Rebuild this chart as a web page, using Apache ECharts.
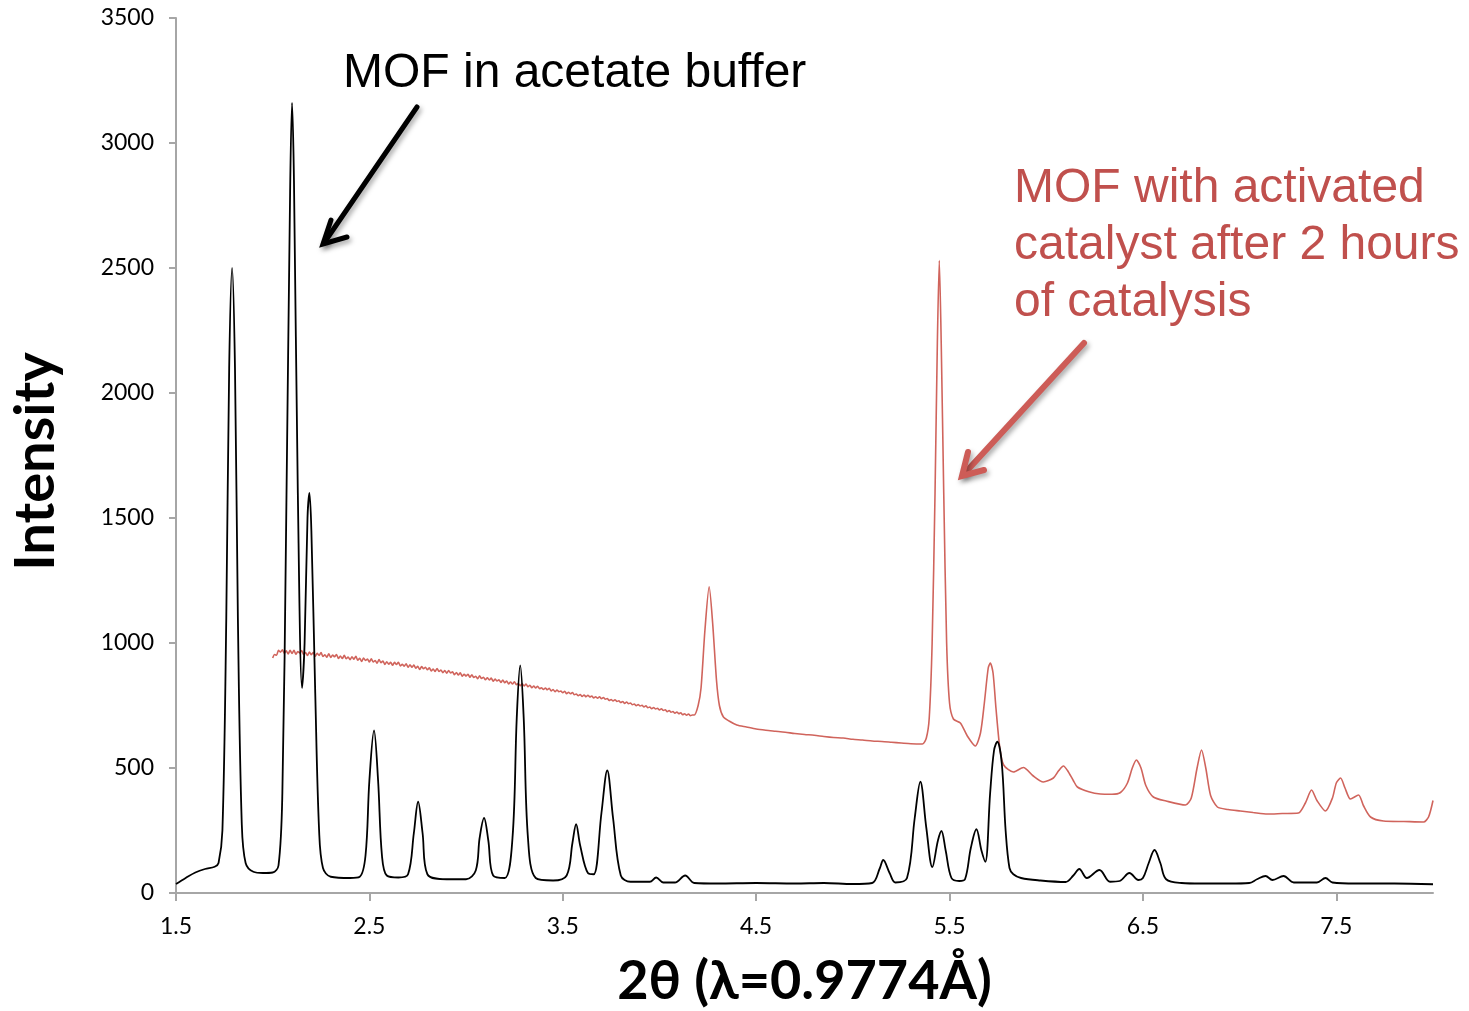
<!DOCTYPE html>
<html>
<head>
<meta charset="utf-8">
<title>XRD</title>
<script src="https://cdn.jsdelivr.net/npm/echarts@6/dist/echarts.min.js"></script>
<style>
html, body { margin: 0; padding: 0; background: #fff; }
#main { width: 1469px; height: 1011px; }
</style>
</head>
<body>
<div id="main"></div>
<script>
// axis ticks
var xTicks = [1.5, 2.5, 3.5, 4.5, 5.5, 6.5, 7.5];
var yTicks = [0, 500, 1000, 1500, 2000, 2500, 3000, 3500];

// MOF in acetate buffer (black)
var blackData = [
	[1.50, 36], [1.55, 60], [1.60, 82], [1.65, 96], [1.70, 105], [1.72, 120], [1.74, 250], [1.76, 1100],
	[1.775, 2100], [1.79, 2500], [1.805, 2100], [1.82, 1100], [1.84, 280], [1.86, 120], [1.90, 85], [1.95, 80],
	[2.00, 82], [2.03, 110], [2.05, 400], [2.07, 1500], [2.09, 2800], [2.10, 3160], [2.11, 2850], [2.13, 1600],
	[2.152, 820], [2.165, 1000], [2.18, 1500], [2.19, 1600], [2.20, 1450], [2.22, 800], [2.24, 250], [2.26, 100],
	[2.30, 65], [2.40, 60], [2.45, 65], [2.48, 150], [2.50, 450], [2.524, 650], [2.545, 450], [2.565, 150],
	[2.59, 70], [2.65, 62], [2.70, 75], [2.73, 240], [2.752, 365], [2.775, 240], [2.80, 75], [2.90, 55],
	[3.00, 55], [3.05, 90], [3.07, 220], [3.093, 300], [3.115, 210], [3.14, 70], [3.20, 60], [3.24, 220],
	[3.262, 700], [3.28, 910], [3.298, 700], [3.32, 220], [3.36, 60], [3.45, 50], [3.52, 70], [3.55, 200],
	[3.569, 275], [3.59, 190], [3.63, 80], [3.66, 75], [3.70, 320], [3.73, 490], [3.76, 300], [3.80, 70],
	[3.85, 45], [3.95, 45], [3.983, 62], [4.02, 42], [4.08, 42], [4.133, 70], [4.18, 40], [4.30, 38],
	[4.50, 40], [4.70, 38], [4.85, 40], [5.00, 36], [5.10, 40], [5.14, 100], [5.157, 132], [5.19, 80],
	[5.22, 42], [5.28, 60], [5.32, 300], [5.349, 445], [5.38, 260], [5.411, 104], [5.44, 210], [5.458, 248],
	[5.48, 170], [5.51, 60], [5.55, 48], [5.58, 55], [5.61, 180], [5.639, 255], [5.665, 170], [5.685, 125],
	[5.71, 400], [5.73, 570], [5.747, 605], [5.77, 520], [5.79, 250], [5.81, 100], [5.83, 75], [5.87, 60],
	[5.97, 50], [6.10, 44], [6.14, 70], [6.171, 96], [6.21, 60], [6.275, 92], [6.33, 45], [6.38, 48],
	[6.43, 80], [6.477, 52], [6.50, 60], [6.53, 120], [6.56, 172], [6.59, 120], [6.62, 55], [6.70, 40],
	[6.80, 38], [6.95, 38], [7.05, 40], [7.09, 55], [7.134, 68], [7.17, 52], [7.227, 68], [7.28, 42],
	[7.40, 42], [7.444, 60], [7.48, 42], [7.60, 38], [7.80, 38], [8.00, 35]
];

// MOF with activated catalyst (red): noisy part read every 0.01 from 2.00
var redNoiseStart = 2.0, redNoiseStep = 0.01;
var redNoise = [
	940, 954, 951, 971, 963, 973, 959, 969, 956, 971,
	958, 971, 955, 966, 960, 970, 954, 962, 950, 964,
	953, 963, 947, 959, 950, 962, 946, 953, 943, 957,
	942, 952, 945, 954, 938, 948, 938, 951, 937, 944,
	933, 945, 935, 947, 931, 939, 926, 940, 930, 936,
	924, 937, 924, 930, 919, 934, 921, 928, 914, 925,
	915, 923, 911, 923, 914, 923, 908, 915, 907, 917,
	903, 913, 903, 912, 899, 907, 894, 906, 897, 903,
	893, 901, 888, 896, 886, 898, 886, 892, 881, 890,
	879, 890, 880, 885, 873, 882, 872, 881, 867, 875,
	868, 875, 863, 873, 862, 867, 857, 869, 858, 863,
	853, 861, 852, 860, 847, 856, 848, 853, 842, 852,
	841, 848, 836, 844, 836, 845, 833, 838, 829, 837,
	828, 836, 825, 831, 821, 828, 820, 827, 817, 821,
	814, 820, 813, 819, 808, 814, 805, 812, 805, 808,
	801, 807, 797, 803, 797, 802, 793, 796, 789, 794,
	786, 792, 785, 791, 784, 788, 780, 785, 779, 785,
	777, 782, 775, 778, 770, 774, 768, 773, 766, 769,
	762, 766, 758, 764, 757, 760, 753, 756, 749, 754,
	748, 751, 744, 749, 741, 744, 737, 742, 736, 739,
	732, 737, 730, 733, 725, 730, 723, 726, 719, 724,
	717, 721, 713, 717, 711, 716, 709, 712
];
var redPeaks = [
	[4.18, 712], [4.20, 750], [4.215, 820], [4.235, 1050], [4.257, 1225], [4.275, 1080], [4.295, 850], [4.31, 750],
	[4.33, 705], [4.36, 688], [4.40, 672], [4.45, 664], [4.50, 656], [4.55, 651], [4.60, 647], [4.65, 643],
	[4.70, 638], [4.75, 634], [4.80, 631], [4.85, 626], [4.90, 622], [4.95, 620], [5.00, 615], [5.05, 612],
	[5.10, 608], [5.15, 606], [5.20, 603], [5.25, 600], [5.30, 597], [5.36, 596], [5.38, 620], [5.395, 700],
	[5.41, 1000], [5.425, 1600], [5.437, 2200], [5.447, 2530], [5.457, 2200], [5.47, 1600], [5.485, 1000], [5.50, 760],
	[5.52, 696], [5.556, 680], [5.592, 628], [5.633, 588], [5.66, 640], [5.68, 760], [5.70, 900], [5.711, 920],
	[5.725, 880], [5.74, 740], [5.76, 580], [5.78, 512], [5.83, 484], [5.882, 502], [5.93, 470], [5.985, 444],
	[6.037, 460], [6.065, 490], [6.089, 508], [6.11, 490], [6.14, 450], [6.161, 424], [6.22, 405], [6.28, 396],
	[6.34, 395], [6.384, 402], [6.42, 440], [6.445, 500], [6.466, 532], [6.49, 500], [6.515, 430], [6.554, 384],
	[6.62, 368], [6.72, 352], [6.75, 380], [6.78, 500], [6.803, 572], [6.825, 500], [6.85, 390], [6.885, 344],
	[6.94, 334], [7.004, 328], [7.07, 322], [7.144, 316], [7.22, 318], [7.304, 320], [7.34, 360], [7.372, 412],
	[7.40, 370], [7.444, 328], [7.48, 380], [7.50, 440], [7.522, 460], [7.545, 420], [7.573, 376], [7.615, 392],
	[7.64, 350], [7.677, 304], [7.744, 288], [7.85, 286], [7.951, 284], [7.977, 304], [8.00, 370]
];

var redData = [];
for (var i = 0; i < redNoise.length; i++) {
	redData.push([+(redNoiseStart + i * redNoiseStep).toFixed(2), redNoise[i]]);
}
redData = redData.concat(redPeaks);

var redText = '#c0504d';
var noteFont = '48px "Liberation Sans", Arial, sans-serif';
var shadow = { shadowBlur: 5, shadowOffsetX: 2, shadowOffsetY: 3, shadowColor: 'rgba(0,0,0,0.35)' };

var myChart = echarts.init(document.getElementById('main'));
var option = {
	backgroundColor: '#ffffff',
	animation: false,
	grid: {
		left: 176,
		right: 36,
		top: 18,
		bottom: 118,
		outerBoundsMode: 'none'
	},
	xAxis: {
		type: 'value',
		min: 1.5,
		max: 8,
		name: '2θ (λ=0.9774Å)',
		nameLocation: 'middle',
		nameGap: 62,
		nameTextStyle: { fontFamily: 'Lato', fontWeight: 'bold', fontSize: 54, color: '#000' },
		axisLine: { lineStyle: { color: '#a6a6a6', width: 2 } },
		axisTick: { customValues: xTicks, length: 8, lineStyle: { color: '#a6a6a6', width: 2 } },
		axisLabel: { customValues: xTicks, margin: 22, fontFamily: 'Lato', fontSize: 23, color: '#000' },
		splitLine: { show: false }
	},
	yAxis: {
		type: 'value',
		min: 0,
		max: 3500,
		interval: 500,
		name: 'Intensity',
		nameLocation: 'middle',
		nameGap: 112,
		nameTextStyle: { fontFamily: 'Lato', fontWeight: 'bold', fontSize: 56, color: '#000', padding: [0, 12, 0, 0] },
		axisLine: { show: true, lineStyle: { color: '#a6a6a6', width: 2 } },
		axisTick: { show: true, customValues: yTicks, length: 7, lineStyle: { color: '#a6a6a6', width: 2 } },
		axisLabel: {
			customValues: yTicks, margin: 22, fontFamily: 'Lato', fontSize: 23, color: '#000',
			formatter: function (v) { return String(v); }
		},
		splitLine: { show: false }
	},
	series: [{
		name: 'MOF with activated catalyst',
		type: 'line',
		data: redData,
		symbol: 'none',
		smooth: 0.25,
		lineStyle: { color: '#d0645c', width: 1.6 }
	}, {
		name: 'MOF in acetate buffer',
		type: 'line',
		data: blackData,
		symbol: 'none',
		smooth: 0.35,
		lineStyle: { color: '#000000', width: 1.8 }
	}],
	graphic: [{
		type: 'text',
		left: 343, top: 50,
		style: { text: 'MOF in acetate buffer', fill: '#000', font: noteFont }
	}, {
		type: 'text',
		left: 1014, top: 165,
		style: { text: 'MOF with activated', fill: redText, font: noteFont }
	}, {
		type: 'text',
		left: 1014, top: 222,
		style: { text: 'catalyst after 2 hours', fill: redText, font: noteFont }
	}, {
		type: 'text',
		left: 1014, top: 279,
		style: { text: 'of catalysis', fill: redText, font: noteFont }
	}, {
		type: 'polyline',
		shape: { points: [[417, 107], [324, 243]] },
		style: Object.assign({ stroke: '#000', lineWidth: 5, lineCap: 'round' }, shadow)
	}, {
		type: 'polyline',
		shape: { points: [[331, 220], [323, 244], [347, 237]] },
		style: Object.assign({ stroke: '#000', lineWidth: 5, lineCap: 'round', lineJoin: 'miter', fill: null }, shadow)
	}, {
		type: 'polyline',
		shape: { points: [[1084, 343], [964, 474]] },
		style: Object.assign({ stroke: '#cd5c57', lineWidth: 6, lineCap: 'round' }, shadow)
	}, {
		type: 'polyline',
		shape: { points: [[968, 452], [962, 476], [984, 470]] },
		style: Object.assign({ stroke: '#cd5c57', lineWidth: 6, lineCap: 'round', lineJoin: 'miter', fill: null }, shadow)
	}]
};
myChart.setOption(option);
</script>
</body>
</html>
